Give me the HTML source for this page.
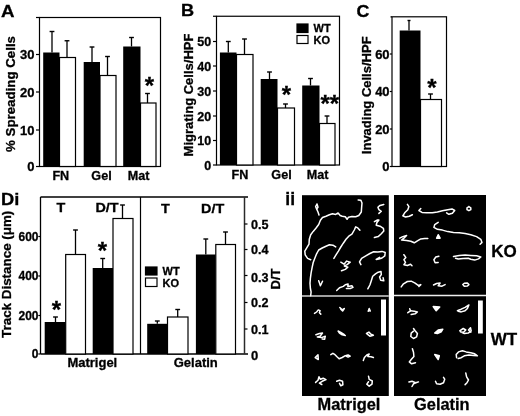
<!DOCTYPE html>
<html><head><meta charset="utf-8"><title>Figure</title>
<style>html,body{margin:0;padding:0;background:#fff}svg{display:block}text{font-family:"Liberation Sans",sans-serif;font-weight:bold;fill:#000;stroke:#000;stroke-width:0.3px}</style>
</head><body>
<svg width="520" height="416" viewBox="0 0 520 416">
<defs><filter id="soft" x="0" y="0" width="100%" height="100%" filterUnits="userSpaceOnUse"><feGaussianBlur stdDeviation="0.35"/></filter></defs>
<g filter="url(#soft)">
<rect x="-5" y="-5" width="530" height="426" fill="#fff"/>
<g id="panelA">
<text x="0" y="0" font-size="17" text-anchor="start" transform="translate(1 16.6) scale(1.1 1)" >A</text>
<rect x="39.5" y="17.5" width="121.0" height="149.0" fill="none" stroke="#000" stroke-width="1.2"/>
<line x1="36.0" y1="17.5" x2="39.5" y2="17.5" stroke="#000" stroke-width="1.2"/>
<line x1="36.0" y1="54.5" x2="39.5" y2="54.5" stroke="#000" stroke-width="1.2"/>
<text x="34.5" y="59.1" font-size="13" text-anchor="end" >30</text>
<line x1="36.0" y1="92" x2="39.5" y2="92" stroke="#000" stroke-width="1.2"/>
<text x="34.5" y="96.6" font-size="13" text-anchor="end" >20</text>
<line x1="36.0" y1="130" x2="39.5" y2="130" stroke="#000" stroke-width="1.2"/>
<text x="34.5" y="134.6" font-size="13" text-anchor="end" >10</text>
<line x1="36.0" y1="166.5" x2="39.5" y2="166.5" stroke="#000" stroke-width="1.2"/>
<text x="34.5" y="171.1" font-size="13" text-anchor="end" >0</text>
<text x="14.8" y="94" font-size="13.3" text-anchor="middle" transform="rotate(-90 14.8 94)" >% Spreading Cells</text>
<line x1="52" y1="31.5" x2="52" y2="52.5" stroke="#000" stroke-width="1.3"/>
<line x1="49.6" y1="31.5" x2="54.4" y2="31.5" stroke="#000" stroke-width="1.4"/>
<rect x="43.2" y="52.5" width="16.3" height="114.0" fill="#000"/>
<line x1="67" y1="40.75" x2="67" y2="57.5" stroke="#000" stroke-width="1.3"/>
<line x1="64.6" y1="40.75" x2="69.4" y2="40.75" stroke="#000" stroke-width="1.4"/>
<rect x="59.5" y="57.5" width="16.0" height="109.0" fill="#fff" stroke="#000" stroke-width="1.2"/>
<line x1="92" y1="47" x2="92" y2="62" stroke="#000" stroke-width="1.3"/>
<line x1="89.6" y1="47" x2="94.4" y2="47" stroke="#000" stroke-width="1.4"/>
<rect x="83.7" y="62" width="16.3" height="104.5" fill="#000"/>
<line x1="107.5" y1="56.5" x2="107.5" y2="75.5" stroke="#000" stroke-width="1.3"/>
<line x1="105.1" y1="56.5" x2="109.9" y2="56.5" stroke="#000" stroke-width="1.4"/>
<rect x="100" y="75.5" width="16" height="91.0" fill="#fff" stroke="#000" stroke-width="1.2"/>
<line x1="131.5" y1="37.5" x2="131.5" y2="46.5" stroke="#000" stroke-width="1.3"/>
<line x1="129.1" y1="37.5" x2="133.9" y2="37.5" stroke="#000" stroke-width="1.4"/>
<rect x="123.2" y="46.5" width="17.3" height="120.0" fill="#000"/>
<line x1="147.5" y1="93.5" x2="147.5" y2="103" stroke="#000" stroke-width="1.3"/>
<line x1="145.1" y1="93.5" x2="149.9" y2="93.5" stroke="#000" stroke-width="1.4"/>
<rect x="140.5" y="103" width="15.5" height="63.5" fill="#fff" stroke="#000" stroke-width="1.2"/>
<text x="149.4" y="94.04" font-size="24" text-anchor="middle" >*</text>
<text x="60.8" y="179.5" font-size="12.6" text-anchor="middle" >FN</text>
<text x="101.5" y="179.5" font-size="12.6" text-anchor="middle" >Gel</text>
<text x="138.5" y="179.5" font-size="12.6" text-anchor="middle" >Mat</text>
</g>
<g id="panelB">
<text x="0" y="0" font-size="16.5" text-anchor="start" transform="translate(181 16.2) scale(1.1 1)" >B</text>
<rect x="216.5" y="16.25" width="123.0" height="148.75" fill="none" stroke="#000" stroke-width="1.2"/>
<line x1="213.0" y1="16.25" x2="216.5" y2="16.25" stroke="#000" stroke-width="1.2"/>
<line x1="213.0" y1="41.5" x2="216.5" y2="41.5" stroke="#000" stroke-width="1.2"/>
<text x="211.2" y="46.0" font-size="12.5" text-anchor="end" >50</text>
<line x1="213.0" y1="66" x2="216.5" y2="66" stroke="#000" stroke-width="1.2"/>
<text x="211.2" y="70.5" font-size="12.5" text-anchor="end" >40</text>
<line x1="213.0" y1="91" x2="216.5" y2="91" stroke="#000" stroke-width="1.2"/>
<text x="211.2" y="95.5" font-size="12.5" text-anchor="end" >30</text>
<line x1="213.0" y1="116" x2="216.5" y2="116" stroke="#000" stroke-width="1.2"/>
<text x="211.2" y="120.5" font-size="12.5" text-anchor="end" >20</text>
<line x1="213.0" y1="140.5" x2="216.5" y2="140.5" stroke="#000" stroke-width="1.2"/>
<text x="211.2" y="145.0" font-size="12.5" text-anchor="end" >10</text>
<line x1="213.0" y1="165" x2="216.5" y2="165" stroke="#000" stroke-width="1.2"/>
<text x="211.2" y="169.5" font-size="12.5" text-anchor="end" >0</text>
<text x="192.7" y="95" font-size="13" text-anchor="middle" transform="rotate(-90 192.7 95)" >Migrating Cells/HPF</text>
<line x1="228.3" y1="41.5" x2="228.3" y2="52.5" stroke="#000" stroke-width="1.3"/>
<line x1="225.9" y1="41.5" x2="230.70000000000002" y2="41.5" stroke="#000" stroke-width="1.4"/>
<rect x="219.89999999999998" y="52.5" width="16.600000000000012" height="112.5" fill="#000"/>
<line x1="244.5" y1="39" x2="244.5" y2="54.5" stroke="#000" stroke-width="1.3"/>
<line x1="242.1" y1="39" x2="246.9" y2="39" stroke="#000" stroke-width="1.4"/>
<rect x="236.5" y="54.5" width="16.5" height="110.5" fill="#fff" stroke="#000" stroke-width="1.2"/>
<line x1="269.5" y1="72" x2="269.5" y2="79" stroke="#000" stroke-width="1.3"/>
<line x1="267.1" y1="72" x2="271.9" y2="72" stroke="#000" stroke-width="1.4"/>
<rect x="260.7" y="79" width="16.8" height="86" fill="#000"/>
<line x1="285.5" y1="104" x2="285.5" y2="108" stroke="#000" stroke-width="1.3"/>
<line x1="283.1" y1="104" x2="287.9" y2="104" stroke="#000" stroke-width="1.4"/>
<rect x="277.5" y="108" width="17.0" height="57" fill="#fff" stroke="#000" stroke-width="1.2"/>
<line x1="310.5" y1="78.5" x2="310.5" y2="85.5" stroke="#000" stroke-width="1.3"/>
<line x1="308.1" y1="78.5" x2="312.9" y2="78.5" stroke="#000" stroke-width="1.4"/>
<rect x="302.2" y="85.5" width="17.3" height="79.5" fill="#000"/>
<line x1="327" y1="116" x2="327" y2="123.5" stroke="#000" stroke-width="1.3"/>
<line x1="324.6" y1="116" x2="329.4" y2="116" stroke="#000" stroke-width="1.4"/>
<rect x="319.5" y="123.5" width="15.5" height="41.5" fill="#fff" stroke="#000" stroke-width="1.2"/>
<text x="286.5" y="103.24" font-size="24" text-anchor="middle" >*</text>
<text x="325.2" y="111.84" font-size="24" text-anchor="middle" >*</text>
<text x="334.5" y="111.84" font-size="24" text-anchor="middle" >*</text>
<text x="240" y="179.3" font-size="12.6" text-anchor="middle" >FN</text>
<text x="281.5" y="179.3" font-size="12.6" text-anchor="middle" >Gel</text>
<text x="317.5" y="179.3" font-size="12.6" text-anchor="middle" >Mat</text>
<rect x="297" y="24" width="11" height="8.5" fill="#000" stroke="#000" stroke-width="1.2"/>
<rect x="297" y="35.5" width="11" height="8" fill="#fff" stroke="#000" stroke-width="1.2"/>
<text x="313.5" y="32.2" font-size="11" text-anchor="start" >WT</text>
<text x="313.5" y="43.7" font-size="11" text-anchor="start" >KO</text>
</g>
<g id="panelC">
<text x="0" y="0" font-size="16.5" text-anchor="start" transform="translate(356.6 17) scale(1.08 1)" >C</text>
<rect x="392" y="16.8" width="54.5" height="149.7" fill="none" stroke="#000" stroke-width="1.2"/>
<line x1="390.5" y1="16.8" x2="392" y2="16.8" stroke="#000" stroke-width="1.2"/>
<line x1="389.8" y1="54" x2="392" y2="54" stroke="#000" stroke-width="1.2"/>
<text x="389.6" y="58.6" font-size="13" text-anchor="end" >60</text>
<line x1="389.8" y1="91.5" x2="392" y2="91.5" stroke="#000" stroke-width="1.2"/>
<text x="389.6" y="96.1" font-size="13" text-anchor="end" >40</text>
<line x1="389.8" y1="129" x2="392" y2="129" stroke="#000" stroke-width="1.2"/>
<text x="389.6" y="133.6" font-size="13" text-anchor="end" >20</text>
<line x1="389.8" y1="166.5" x2="392" y2="166.5" stroke="#000" stroke-width="1.2"/>
<text x="389.6" y="171.1" font-size="13" text-anchor="end" >0</text>
<text x="371" y="95.3" font-size="13" text-anchor="middle" transform="rotate(-90 371 95.3)" >Invading Cells/HPF</text>
<line x1="409" y1="20.5" x2="409" y2="30.5" stroke="#000" stroke-width="1.3"/>
<line x1="407.5" y1="20.5" x2="410.5" y2="20.5" stroke="#000" stroke-width="1.4"/>
<rect x="399.7" y="30.5" width="20.8" height="136.0" fill="#000"/>
<line x1="430.5" y1="94" x2="430.5" y2="99.5" stroke="#000" stroke-width="1.3"/>
<line x1="428.1" y1="94" x2="432.9" y2="94" stroke="#000" stroke-width="1.4"/>
<rect x="420.5" y="99.5" width="21.0" height="67.0" fill="#fff" stroke="#000" stroke-width="1.2"/>
<text x="432" y="96.24" font-size="24" text-anchor="middle" >*</text>
</g>
<g id="panelD">
<text x="0" y="0" font-size="17.3" text-anchor="start" transform="translate(1 204.6) scale(1.06 1)" >Di</text>
<line x1="40.5" y1="197" x2="248" y2="197" stroke="#000" stroke-width="1.4"/>
<line x1="40.5" y1="354" x2="248" y2="354" stroke="#000" stroke-width="1.4"/>
<line x1="40.5" y1="197" x2="40.5" y2="354" stroke="#000" stroke-width="1.3"/>
<line x1="244.5" y1="197" x2="244.5" y2="354" stroke="#2a2a2a" stroke-width="1.5"/>
<line x1="140.5" y1="197" x2="140.5" y2="354" stroke="#000" stroke-width="1.2"/>
<line x1="38.3" y1="236.5" x2="40.5" y2="236.5" stroke="#000" stroke-width="1.2"/>
<text x="38.5" y="240.8" font-size="12" text-anchor="end" >600</text>
<line x1="38.3" y1="276" x2="40.5" y2="276" stroke="#000" stroke-width="1.2"/>
<text x="38.5" y="280.3" font-size="12" text-anchor="end" >400</text>
<line x1="38.3" y1="315.5" x2="40.5" y2="315.5" stroke="#000" stroke-width="1.2"/>
<text x="38.5" y="319.8" font-size="12" text-anchor="end" >200</text>
<line x1="38.3" y1="354" x2="40.5" y2="354" stroke="#000" stroke-width="1.2"/>
<text x="38.5" y="358.3" font-size="12" text-anchor="end" >0</text>
<line x1="244.5" y1="224" x2="247.5" y2="224" stroke="#000" stroke-width="1.2"/>
<text x="251" y="228.5" font-size="12.6" text-anchor="start" >0.5</text>
<line x1="244.5" y1="249.5" x2="247.5" y2="249.5" stroke="#000" stroke-width="1.2"/>
<text x="251" y="254.0" font-size="12.6" text-anchor="start" >0.4</text>
<line x1="244.5" y1="275.5" x2="247.5" y2="275.5" stroke="#000" stroke-width="1.2"/>
<text x="251" y="281.5" font-size="12.6" text-anchor="start" >0.3</text>
<line x1="244.5" y1="302.5" x2="247.5" y2="302.5" stroke="#000" stroke-width="1.2"/>
<text x="251" y="307.0" font-size="12.6" text-anchor="start" >0.2</text>
<line x1="244.5" y1="329" x2="247.5" y2="329" stroke="#000" stroke-width="1.2"/>
<text x="251" y="333.5" font-size="12.6" text-anchor="start" >0.1</text>
<text x="251" y="359.9" font-size="13" text-anchor="start" >0</text>
<text x="11.5" y="274.3" font-size="13.4" text-anchor="middle" transform="rotate(-90 11.5 274.3)" >Track Distance (μm)</text>
<text x="280" y="279" font-size="13" text-anchor="middle" transform="rotate(-90 280 279)" >D/T</text>
<line x1="55.5" y1="317" x2="55.5" y2="322" stroke="#000" stroke-width="1.3"/>
<line x1="53.1" y1="317" x2="57.9" y2="317" stroke="#000" stroke-width="1.4"/>
<rect x="44.7" y="322" width="21.000000000000004" height="32" fill="#000"/>
<line x1="75.5" y1="230" x2="75.5" y2="254.5" stroke="#000" stroke-width="1.3"/>
<line x1="73.1" y1="230" x2="77.9" y2="230" stroke="#000" stroke-width="1.4"/>
<rect x="65.7" y="254.5" width="19.799999999999997" height="99.5" fill="#fff" stroke="#000" stroke-width="1.2"/>
<line x1="102.7" y1="258.5" x2="102.7" y2="268" stroke="#000" stroke-width="1.3"/>
<line x1="100.3" y1="258.5" x2="105.10000000000001" y2="258.5" stroke="#000" stroke-width="1.4"/>
<rect x="92.7" y="268" width="20.3" height="86" fill="#000"/>
<line x1="122.5" y1="205" x2="122.5" y2="218.5" stroke="#000" stroke-width="1.3"/>
<line x1="120.1" y1="205" x2="124.9" y2="205" stroke="#000" stroke-width="1.4"/>
<rect x="113" y="218.5" width="20" height="135.5" fill="#fff" stroke="#000" stroke-width="1.2"/>
<line x1="157.3" y1="321" x2="157.3" y2="323.8" stroke="#000" stroke-width="1.3"/>
<line x1="154.9" y1="321" x2="159.70000000000002" y2="321" stroke="#000" stroke-width="1.4"/>
<rect x="147.2" y="323.8" width="20.3" height="30.19999999999999" fill="#000"/>
<line x1="177.7" y1="309.5" x2="177.7" y2="317" stroke="#000" stroke-width="1.3"/>
<line x1="175.29999999999998" y1="309.5" x2="180.1" y2="309.5" stroke="#000" stroke-width="1.4"/>
<rect x="167.5" y="317" width="20.5" height="37" fill="#fff" stroke="#000" stroke-width="1.2"/>
<line x1="205.8" y1="239" x2="205.8" y2="254.5" stroke="#000" stroke-width="1.3"/>
<line x1="203.4" y1="239" x2="208.20000000000002" y2="239" stroke="#000" stroke-width="1.4"/>
<rect x="195.89999999999998" y="254.5" width="19.900000000000023" height="99.5" fill="#000"/>
<line x1="225.5" y1="232" x2="225.5" y2="244.5" stroke="#000" stroke-width="1.3"/>
<line x1="223.1" y1="232" x2="227.9" y2="232" stroke="#000" stroke-width="1.4"/>
<rect x="215.8" y="244.5" width="19.69999999999999" height="109.5" fill="#fff" stroke="#000" stroke-width="1.2"/>
<text x="56.3" y="318.24" font-size="24" text-anchor="middle" >*</text>
<text x="102.5" y="258.74" font-size="24" text-anchor="middle" >*</text>
<text x="0" y="0" font-size="13.3" text-anchor="middle" transform="translate(61 211.6) scale(1.08 1)" >T</text>
<text x="0" y="0" font-size="13.3" text-anchor="middle" transform="translate(107 211.6) scale(1.08 1)" >D/T</text>
<text x="0" y="0" font-size="13.3" text-anchor="middle" transform="translate(165.3 213) scale(1.08 1)" >T</text>
<text x="0" y="0" font-size="13.3" text-anchor="middle" transform="translate(212.6 213) scale(1.08 1)" >D/T</text>
<text x="92.3" y="367" font-size="13" text-anchor="middle" >Matrigel</text>
<text x="195.8" y="367" font-size="13" text-anchor="middle" >Gelatin</text>
<rect x="145.5" y="267" width="11.5" height="8" fill="#000" stroke="#000" stroke-width="1.2"/>
<rect x="145.5" y="278" width="11.5" height="8.5" fill="#fff" stroke="#000" stroke-width="1.2"/>
<text x="162.5" y="275" font-size="11" text-anchor="start" >WT</text>
<text x="162.5" y="286.5" font-size="11" text-anchor="start" >KO</text>
</g>
<g id="panelii">
<text x="285.3" y="204.5" font-size="17.5" text-anchor="start" >ii</text>
<rect x="302" y="195.2" width="86.8" height="200.8" fill="#000"/>
<rect x="394" y="195" width="92" height="201" fill="#000"/>
<line x1="302" y1="296" x2="388.8" y2="296" stroke="#d4d4d4" stroke-width="1.5"/>
<line x1="394" y1="295.5" x2="486" y2="295.5" stroke="#eee" stroke-width="1.5"/>
<rect x="381" y="299.5" width="5" height="36" fill="#fff"/>
<rect x="478" y="300.5" width="4.8" height="33" fill="#fff"/>
<g fill="none" stroke="#fff" stroke-width="1.5" stroke-linejoin="round" stroke-linecap="round">
<polyline points="317.0,204.0 315.6,206.5 316.6,208.9 318.0,207.2 317.0,204.0"/>
<polyline points="316.6,208.9 318.0,212.0 319.0,215.1"/>
<polyline points="358.2,199.9 360.9,200.2 362.0,203.0 361.6,207.8 361.3,212.0 358.8,215.5 355.7,216.8 351.9,216.5 348.5,217.2 347.1,219.3 345.3,216.8 342.2,216.2 340.2,215.5 338.1,213.0 335.7,214.4 332.5,213.7 329.4,214.8 326.0,216.2 322.5,217.5 320.4,220.3 318.7,224.5 315.9,228.3 313.2,231.4 310.7,234.8 309.3,239.3 309.0,244.2 306.9,247.7 304.8,251.1 305.2,254.9 307.6,258.4 310.7,259.8"/>
<polyline points="359.9,230.3 357.8,227.9 355.7,226.9 354.3,230.0 351.9,234.2 348.8,236.2 346.0,239.3 343.3,243.2 340.8,247.0 338.4,251.1 336.0,254.9 333.9,258.4"/>
<polyline points="383.8,204.4 380.0,205.4 377.9,207.2 378.9,209.6 381.3,211.3 378.9,213.4"/>
<polyline points="374.4,221.7 377.5,220.0 378.9,220.0 376.8,222.7 376.2,225.2 380.0,226.2 383.4,228.3 383.8,231.0 381.3,233.8 378.2,236.6 374.4,237.6"/>
<polyline points="335.7,246.9 332.9,245.2 329.4,244.8 326.0,246.2 322.2,248.0 318.7,250.0 316.6,253.8 314.9,258.0 313.2,262.5 312.1,267.7 311.1,272.9 310.4,278.1 310.0,283.3 310.4,288.5 311.1,291.9 310.7,295.7"/>
<polyline points="360.9,264.6 359.5,261.8 361.6,258.3 365.8,255.9 369.9,253.5 373.7,251.8 377.9,252.1 382.0,251.4 385.2,252.5 384.8,255.9 382.0,258.0 378.9,259.0 376.2,259.4 379.6,257.3"/>
<polyline points="340.8,262.2 344.0,264.2 346.7,261.1 350.2,262.2 347.1,264.6 344.3,266.0 347.8,267.3 345.3,269.4 341.5,270.8"/>
<polyline points="367.8,288.8 369.9,285.0 371.3,280.8 372.7,276.3 375.5,273.9 378.2,272.2 381.0,271.5 381.3,274.6 379.6,277.0 380.7,280.2 383.8,280.8 383.1,277.7"/>
<polyline points="318.7,280.8 320.4,285.7 322.5,281.2"/>
<polyline points="336.7,290.5 339.5,287.8 343.3,286.4 345.3,284.7 348.1,284.0 347.8,286.4 351.9,285.7 353.0,287.4 350.2,288.5 346.4,288.5"/>
<polyline points="314.5,313.4 316.6,312.0 318.3,309.9 320.1,310.6 319.4,312.7 320.8,314.1"/>
<polyline points="339.8,307.5 342.2,309.9 344.3,308.5 342.6,311.0 340.8,309.2"/>
<polyline points="368.2,311.3 369.2,308.5 370.3,311.0 368.5,310.6"/>
<polyline points="315.9,334.8 319.4,333.5 322.5,333.1 320.1,336.2 317.3,336.9 321.5,337.6 325.3,336.2 324.6,339.3 322.2,339.0"/>
<polyline points="338.1,331.0 340.8,332.4 343.6,334.2 345.3,335.5 342.2,334.8 339.5,333.1 338.1,331.0"/>
<polyline points="366.5,333.5 368.9,332.1 371.0,334.2 373.4,335.2 369.9,336.2 368.2,334.8 366.5,333.5"/>
<polyline points="315.2,357.5 318.0,354.7 318.3,359.5 315.2,357.5"/>
<polyline points="330.8,354.7 332.9,353.3 335.0,354.7 337.0,356.8 339.1,358.8 342.2,357.5 345.3,355.7 348.1,355.0 350.2,356.1 348.1,357.1 346.0,356.1"/>
<polyline points="363.3,360.6 364.4,357.5 366.8,355.0 369.2,354.0 367.8,356.4 371.0,356.8 373.4,357.5"/>
<polyline points="315.6,382.4 318.0,380.3 319.0,376.8 320.4,379.3 323.2,378.2 326.0,379.6 322.2,381.3 319.4,383.1 321.8,384.5"/>
<polyline points="336.7,381.3 339.5,380.3 342.6,381.3 342.9,384.8 340.8,385.8 339.5,383.4"/>
<polyline points="368.5,376.2 369.2,379.3 372.3,381.0 372.0,384.1 369.2,386.2 366.8,384.1 368.5,381.7"/>
<polyline points="407.4,204.3 408.9,206.6 407.8,209.7 404.7,212.8 402.8,215.8 405.5,217.0 409.3,216.2 412.4,214.7"/>
<polyline points="420.8,208.5 418.9,210.5 422.0,212.4 426.6,212.8 432.4,212.8 437.4,212.0 442.4,210.8 447.8,209.7 452.0,208.9 454.7,210.5 452.4,213.2 448.9,214.3 446.6,212.8"/>
<polyline points="468.9,206.6 470.8,207.8 470.8,209.7 468.9,210.7 467.0,209.7 467.0,207.8 468.9,206.6"/>
<polyline points="438.2,222.4 434.7,224.7 433.9,227.4 437.4,229.3 442.4,230.1 447.8,231.6 453.5,232.4 459.3,232.8 465.1,233.5 470.8,234.7 476.6,236.6 480.8,239.3 482.0,242.4 480.1,244.3"/>
<polygon points="436.6,238.2 438.2,234.7 440.1,238.2" fill="#fff"/>
<polyline points="399.7,238.2 402.8,236.6 406.6,235.5 403.9,238.2 401.6,240.1 406.6,240.5 410.8,241.2 414.3,242.8 417.4,240.8 420.8,238.9 424.7,238.5 427.8,238.5"/>
<polyline points="403.9,254.7 405.8,257.4 403.9,259.7 405.5,262.4 403.9,264.7 407.4,265.5 410.5,264.3 412.0,265.8"/>
<polyline points="438.9,256.2 435.8,257.0 433.9,259.7 435.1,262.8 438.2,262.4"/>
<polyline points="453.5,256.6 459.3,255.5 465.1,255.1 470.8,255.5 476.6,255.8 480.8,257.0 478.5,258.9 474.7,260.1 470.8,259.3 468.2,258.2 463.2,258.5 458.2,258.9 455.5,258.2"/>
<polyline points="401.2,286.9 403.5,283.8 407.4,281.5 411.2,281.2 415.1,283.1 418.2,285.4 420.8,284.6 418.9,286.5"/>
<polyline points="433.5,285.0 436.6,283.5 440.1,283.1 438.2,285.8 442.0,286.2 445.1,284.6"/>
<polyline points="462.8,284.6 464.3,283.3 467.4,283.1 468.9,284.6 467.4,286.0 464.3,286.2 462.8,284.6"/>
<polyline points="409.7,308.8 410.5,310.8 407.8,312.7"/>
<polyline points="410.5,310.8 414.3,311.2 417.4,311.9 415.1,313.8 411.2,314.6"/>
<polygon points="433.2,306.5 439.7,306.9 436.2,310.8" fill="#fff"/>
<polyline points="457.4,310.8 461.2,309.2 465.1,307.3 468.9,305.0 467.4,308.5 465.1,310.8 461.2,311.9 458.2,311.2"/>
<polyline points="413.5,328.5 415.1,330.8 417.4,333.5 416.6,336.9 413.5,338.5 410.8,336.5 411.2,333.1 413.5,331.2"/>
<polygon points="434.7,333.1 438.2,330.0 442.8,329.2 441.2,331.9 437.4,333.5" fill="#fff"/>
<polyline points="459.7,330.8 463.2,328.5 465.8,330.0 463.5,332.3 460.5,331.9 464.3,333.5 468.2,333.1 471.2,330.8 470.5,327.7 468.5,330.0 470.8,332.3"/>
<polyline points="412.4,348.8 413.5,352.3 413.9,356.5 411.2,359.6 409.3,361.9 411.6,363.8 415.5,362.7"/>
<polygon points="434.7,354.6 439.3,355.8 438.2,359.6" fill="#fff"/>
<polyline points="456.6,357.7 456.2,354.6 458.5,351.9 462.4,350.8 466.2,351.9 470.8,352.7 474.7,353.8 477.4,355.8 473.5,355.4 468.9,355.0 464.3,355.8 461.2,357.7 458.2,358.5"/>
<polyline points="408.9,381.9 412.0,381.2 415.5,382.7 418.5,381.9 413.5,383.8 412.0,386.5"/>
<polyline points="435.5,381.2 436.6,383.8 440.1,384.2 443.5,382.7 444.7,379.2 443.5,377.3"/>
<polyline points="465.8,373.1 466.6,376.9 468.5,380.0 467.0,382.7 465.1,384.6"/>
</g>
<text x="349" y="410.4" font-size="16.4" text-anchor="middle" >Matrigel</text>
<text x="441.8" y="410.4" font-size="16.4" text-anchor="middle" >Gelatin</text>
<text x="491.3" y="257" font-size="17" text-anchor="start" >KO</text>
<text x="490.8" y="345" font-size="17" text-anchor="start" >WT</text>
</g>
</g>
</svg></body></html>
